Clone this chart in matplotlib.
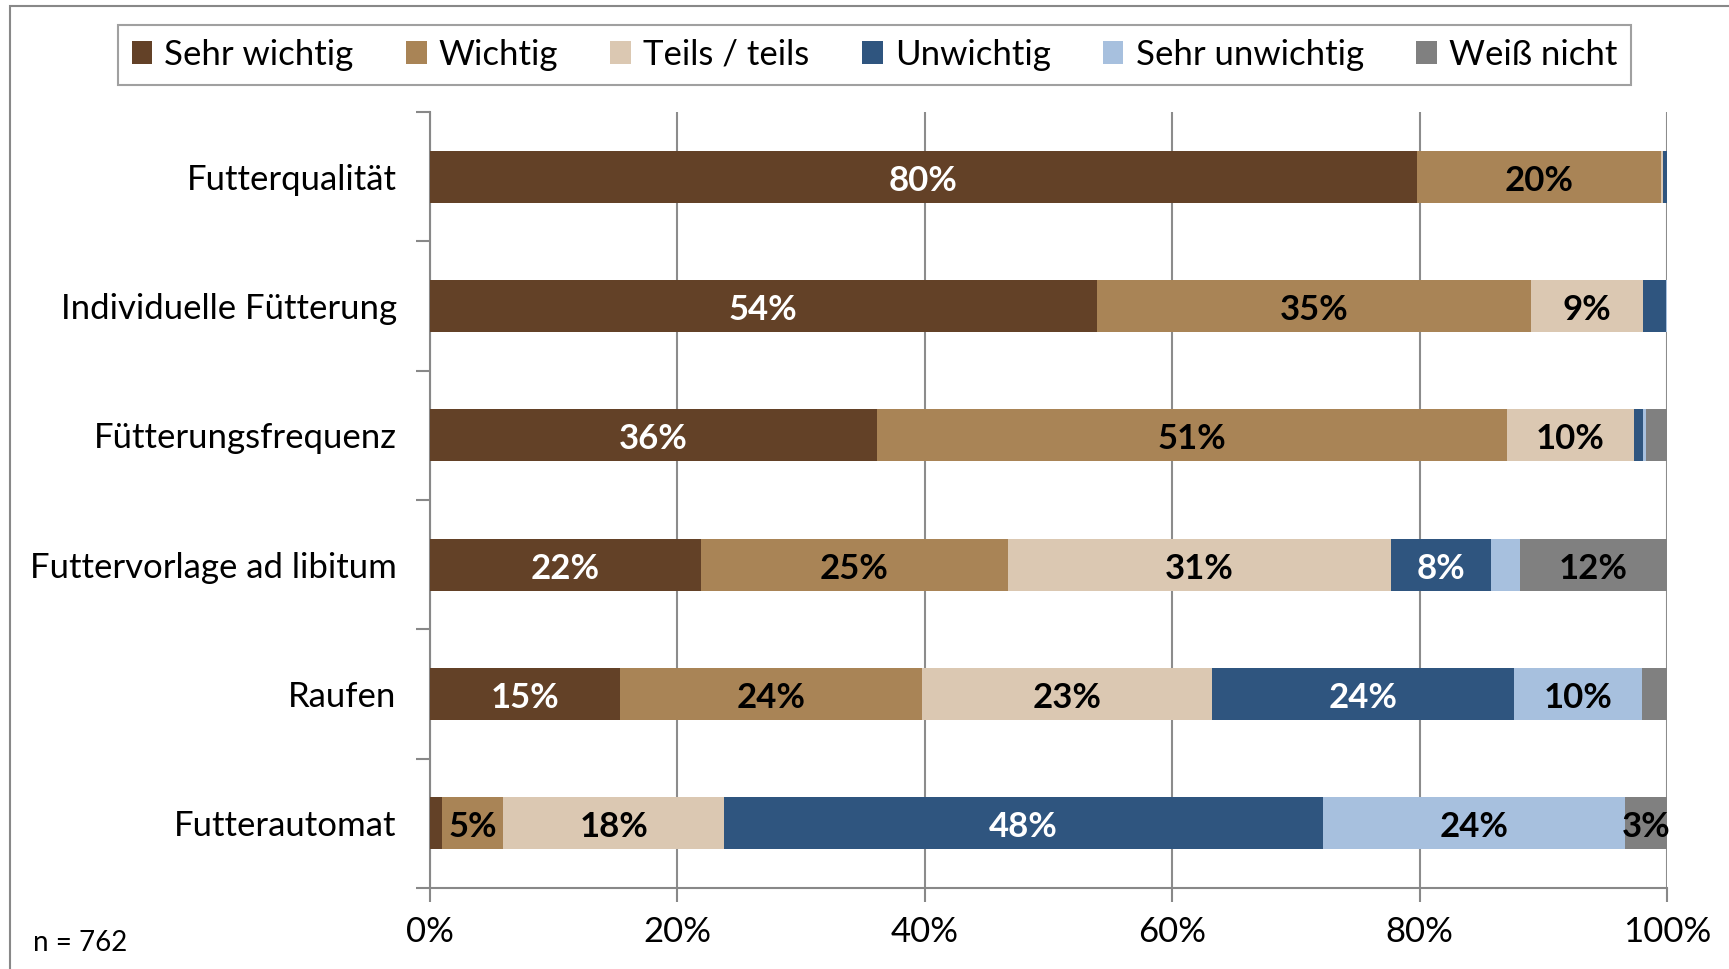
import numpy as np
import matplotlib.pyplot as plt
from matplotlib.patches import Rectangle

plt.rcParams['font.family'] = ['Lato', 'DejaVu Sans']

categories = ['Futterqualität', 'Individuelle Fütterung', 'Fütterungsfrequenz',
              'Futtervorlage ad libitum', 'Raufen', 'Futterautomat']
series = ['Sehr wichtig', 'Wichtig', 'Teils / teils', 'Unwichtig',
          'Sehr unwichtig', 'Weiß nicht']

# shares in percent, one list per answer, in category order
sehr_wichtig   = [79.8, 53.9, 36.1, 21.9, 15.4, 1.0]
wichtig        = [19.7, 35.1, 51.0, 24.8, 24.4, 4.9]
teils          = [0.2, 9.1, 10.2, 31.0, 23.4, 17.9]
unwichtig      = [0.3, 1.8, 0.8, 8.1, 24.4, 48.4]
sehr_unwichtig = [0.0, 0.1, 0.2, 2.3, 10.4, 24.4]
weiss_nicht    = [0.0, 0.0, 1.7, 11.9, 2.0, 3.4]

colors = ['#634127', '#A98456', '#DBC8B2', '#2F557F', '#A7C0DE', '#808080']
label_colors = ['white', 'black', 'black', 'white', 'black', 'black']

data = np.array([sehr_wichtig, wichtig, teils, unwichtig, sehr_unwichtig, weiss_nicht])

fig = plt.figure(figsize=(17.29, 9.69), dpi=100)
ax = fig.add_axes([0.2487, 0.0836, 0.7154, 0.8008])

y = np.arange(len(categories))
left = np.zeros(len(categories))
for vals, name, col, tcol in zip(data, series, colors, label_colors):
    ax.barh(y, vals, left=left, height=0.4, color=col, label=name, zorder=3)
    for yi, (l, v) in enumerate(zip(left, vals)):
        if v >= 2.9:
            ax.text(l + v / 2, yi + 0.03, f'{v:.0f}%', ha='center', va='center',
                    color=tcol, fontsize=25, fontweight='bold', zorder=4)
    left += vals

ax.set_xlim(0, 100)
ax.set_ylim(len(categories) - 0.5, -0.5)
ax.set_xticks(np.arange(0, 101, 20))
ax.set_xticklabels([f'{t}%' for t in range(0, 101, 20)], fontsize=25)
ax.set_yticks(y)
ax.set_yticklabels(categories, fontsize=25)
ax.set_yticks(np.arange(-0.5, len(categories), 1), minor=True)
ax.tick_params(axis='y', which='major', length=0, pad=24)
ax.tick_params(axis='y', which='minor', length=10, color='#888888', width=1.5)
ax.tick_params(axis='x', length=10, color='#888888', width=1.5, pad=10)

ax.grid(axis='x', color='#8c8c8c', linewidth=1.5, zorder=0)
for s in ['top', 'right']:
    ax.spines[s].set_visible(False)
for s in ['left', 'bottom']:
    ax.spines[s].set_color('#888888')
    ax.spines[s].set_linewidth(1.5)

leg = fig.legend(loc='center', bbox_to_anchor=(0.5057, 0.9435), ncol=6,
                 fontsize=25, frameon=True, fancybox=False, handlelength=0.6,
                 handleheight=0.6, handletextpad=0.35, columnspacing=1.5,
                 borderpad=0.4)
leg.get_frame().set_edgecolor('#888888')
leg.get_frame().set_linewidth(1.5)

# outer chart frame
fig.patches.append(Rectangle((0.006, -0.1), 1.2, 1.094, transform=fig.transFigure,
                             fill=False, edgecolor='#888888', linewidth=1.5))

fig.text(0.019, 0.027, 'n = 762', fontsize=20, ha='left', va='center')

fig.savefig('out.png', dpi=100)
